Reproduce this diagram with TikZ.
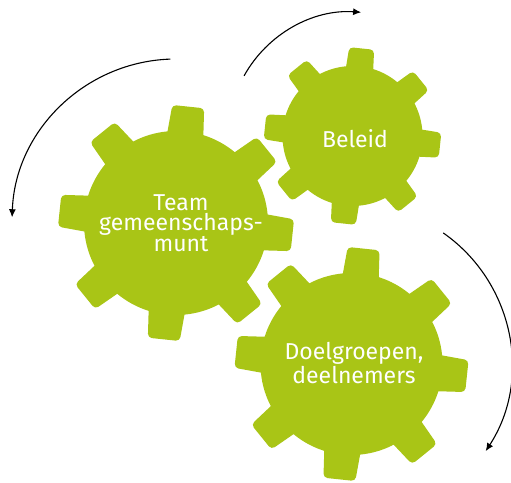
\documentclass[tikz,border=0pt]{standalone}
\usepackage{fontspec}
\setmainfont{Fira Sans}
\usetikzlibrary{arrows.meta}
\definecolor{geargreen}{RGB}{169,197,22}
\tikzset{
  gearfill/.style={fill=geargreen},
  geartext/.style={text=white, align=center, font=\fontsize{23}{20.5}\selectfont, inner sep=0pt},
  flow/.style={draw=black, line width=1.1pt, -{Latex[length=8pt,width=7pt]}}
}
\newcommand{\mygear}[7]{% cx cy Rout Rin halftop halfbase rot
  \begin{scope}[shift={(#1,#2)}]
    \fill[gearfill] (0,0) circle[radius=#4];
    \foreach \k in {0,...,7}{
      \fill[gearfill, rotate={#7+45*\k}, rounded corners=4pt]
        ({#4-8},{-#6}) -- ({#3},{-#5}) -- ({#3},{#5}) -- ({#4-8},{#6}) -- cycle;
    }
  \end{scope}}
\begin{document}
\begin{tikzpicture}[x=1pt,y=1pt]
\useasboundingbox (0,0) rectangle (511,482);
% gear centres
\coordinate (c1) at (176,259);
\coordinate (c2) at (352.5,346);
\coordinate (c3) at (351.5,118);
\mygear{176}{259}{117}{92}{16}{18.5}{-6}
\mygear{352.5}{346}{88}{70}{12.5}{14}{-6}
\mygear{351.5}{118}{116}{91}{16}{18.5}{-6}
\node[geartext] (team) at (181,259) {Team\\gemeenschaps-\\munt};
\node[geartext] (beleid) at (355,343) {Beleid};
\node[geartext] (doel) at (354,119) {Doelgroepen,\\deelnemers};
% arrows
\draw[flow] ([shift={(92:164)}]c1) arc[start angle=92, end angle=178, radius=164];
\draw[flow] ([shift={(151:124)}]c2) arc[start angle=151, end angle=86, radius=124];
\draw[flow] ([shift={(55:160)}]c3) arc[start angle=55, end angle=-33, radius=160];
\end{tikzpicture}
\end{document}
